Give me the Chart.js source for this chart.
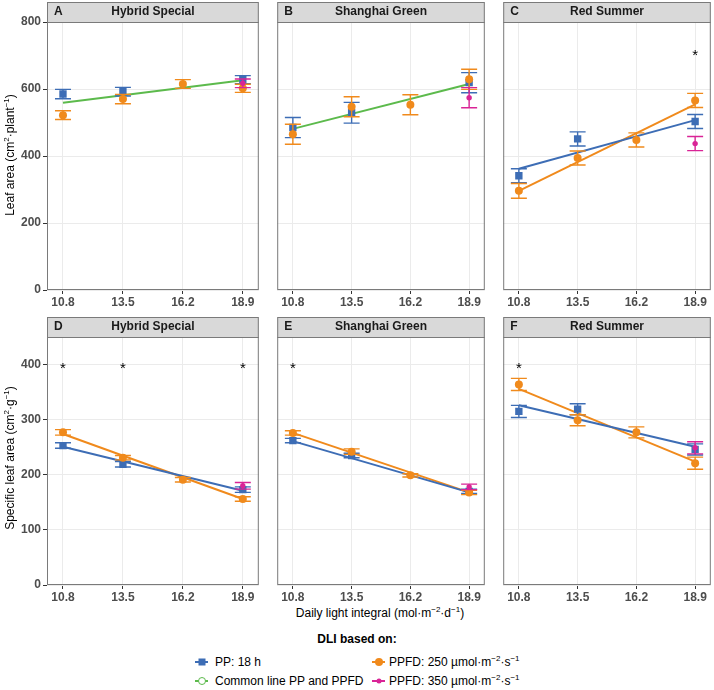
<!DOCTYPE html>
<html>
<head>
<meta charset="utf-8">
<script src="https://cdn.jsdelivr.net/npm/chart.js@4.4.1/dist/chart.umd.min.js"></script>
<style>
  body { margin: 0; background: #fff; font-family: "Liberation Sans", Arial, sans-serif; }
  #wrap { position: relative; width: 714px; height: 690px; overflow: hidden; }
  canvas { position: absolute; }
  .txt { position: absolute; font-size: 12px; line-height: 16px; color: #000; white-space: nowrap; }
  .rot { text-align: center; transform: rotate(-90deg); }
  sup { font-size: 8px; line-height: 0; vertical-align: 5px; }
  .ic { position: absolute; width: 13px; height: 14px; }
  .ic .ln { position: absolute; left: 0; top: 6px; width: 13px; height: 2px; }
  .ic .mk { position: absolute; left: 50%; top: 50%; transform: translate(-50%, -50%); box-sizing: border-box; }
</style>
</head>
<body>
<div id="wrap">
  <canvas id="pA" width="264" height="310" style="left:0;top:0"></canvas>
  <canvas id="pB" width="218" height="310" style="left:272px;top:0"></canvas>
  <canvas id="pC" width="218" height="310" style="left:498px;top:0"></canvas>
  <canvas id="pD" width="264" height="295" style="left:0;top:310px"></canvas>
  <canvas id="pE" width="218" height="295" style="left:272px;top:310px"></canvas>
  <canvas id="pF" width="218" height="295" style="left:498px;top:310px"></canvas>

  <div class="txt rot" style="left:-120px;top:147px;width:260px">Leaf area (cm<sup>2</sup>·plant<sup>−1</sup>)</div>
  <div class="txt rot" style="left:-120px;top:450px;width:260px">Specific leaf area (cm<sup>2</sup>·g<sup>−1</sup>)</div>
  <div class="txt" style="left:230px;top:605px;width:300px;text-align:center">Daily light integral (mol·m<sup>−2</sup>·d<sup>−1</sup>)</div>

  <div class="txt" style="left:257px;top:631px;width:200px;text-align:center;font-weight:bold">DLI based on:</div>
  <div class="ic" style="left:195px;top:655px"><i class="ln" style="background:#3d6db5"></i><i class="mk" style="width:7px;height:7px;background:#3d6db5"></i></div>
  <div class="txt" style="left:215px;top:654px">PP: 18 h</div>
  <div class="ic" style="left:195px;top:674px"><i class="ln" style="background:#5cba4c"></i><i class="mk" style="width:8px;height:8px;border-radius:50%;background:#fff;border:1.5px solid #5cba4c"></i></div>
  <div class="txt" style="left:215px;top:673px">Common line PP and PPFD</div>
  <div class="ic" style="left:372px;top:655px"><i class="ln" style="background:#f08a1c"></i><i class="mk" style="width:8px;height:8px;border-radius:50%;background:#f08a1c"></i></div>
  <div class="txt" style="left:389px;top:654px">PPFD: 250 µmol·m<sup>−2</sup>·s<sup>−1</sup></div>
  <div class="ic" style="left:372px;top:674px"><i class="ln" style="background:#d92496"></i><i class="mk" style="width:5px;height:5px;border-radius:50%;background:#d92496"></i></div>
  <div class="txt" style="left:389px;top:673px">PPFD: 350 µmol·m<sup>−2</sup>·s<sup>−1</sup></div>
</div>

<script>
// x values and facet labels
const dli = [10.8, 13.5, 16.2, 18.9];
const cultivars = ['Hybrid Special', 'Shanghai Green', 'Red Summer'];
const laLetters = ['A', 'B', 'C'];
const slaLetters = ['D', 'E', 'F'];
const laTicks = [0, 200, 400, 600, 800];
const slaTicks = [0, 100, 200, 300, 400];

// leaf area (cm2 per plant), one row per cultivar
const laPP = [[585, 592, null, 628], [485, 529, null, 619], [341, 451, null, 503]];
const laPPse = [[14, 13, null, 12], [30, 31, null, 30], [21, 21, null, 21]];
const la250 = [[522, 570, 615, 602], [465, 547, 553, 629], [296, 394, 448, 566]];
const la250se = [[13, 14, 13, 12], [30, 30, 30, 30], [22, 21, 21, 21]];
const la350 = [617, 574, 437];      // only at 18.9
const la350se = [13, 30, 21];
const laFitCommon = [[559, 626], [481, 615], null];
const laFitPP = [null, null, [362, 507]];
const laFit250 = [null, null, [296, 554]];
const laStars = [[], [], [18.9]];
const laStarY = 711;

// specific leaf area (cm2 per g)
const slaPP = [[253, 219, null, 173], [262, 235, null, 170], [315, 319, null, 246]];
const slaPPse = [[5, 5, null, 5], [4, 4, null, 4], [11, 10, null, 10]];
const sla250 = [[277, 231, 191, 156], [276, 242, 199, 168], [364, 299, 277, 221]];
const sla250se = [[5, 4, 4, 4], [4, 5, 3, 4], [11, 10, 10, 11]];
const sla350 = [180, 178, 249];
const sla350se = [6, 5, 11];
const slaFitPP = [[251, 171], [261, 168], [326, 251]];
const slaFit250 = [[274, 156], [276, 168], [356, 224]];
const slaStars = [[10.8, 13.5, 18.9], [10.8], [10.8]];
const slaStarY = 400;

const BLUE = '#3d6db5', ORANGE = '#f08a1c', GREEN = '#5cba4c', PINK = '#d92496';
const FONT = '"Liberation Sans", Arial, sans-serif';

function series(vals, errs) {
  const data = [], err = [];
  dli.forEach((x, i) => {
    if (vals[i] != null) { data.push({ x: x, y: vals[i] }); err.push(errs[i]); }
  });
  return { data, err };
}
function fitLine(ends) {
  return [{ x: dli[0], y: ends[0] }, { x: dli[3], y: ends[1] }];
}

// error bars, panel border, strip and asterisks
const facetPlugin = {
  id: 'facet',
  beforeDatasetDraw(chart, args) {
    const ds = chart.data.datasets[args.index];
    if (!ds.err) return;
    const ctx = chart.ctx, x = chart.scales.x, y = chart.scales.y;
    ctx.save();
    ctx.strokeStyle = ds.borderColor;
    ctx.lineWidth = 1.4;
    ds.data.forEach((p, i) => {
      const px = x.getPixelForValue(p.x);
      const y1 = y.getPixelForValue(p.y - ds.err[i]);
      const y2 = y.getPixelForValue(p.y + ds.err[i]);
      ctx.beginPath();
      ctx.moveTo(px, y1); ctx.lineTo(px, y2);
      ctx.moveTo(px - 8, y1); ctx.lineTo(px + 8, y1);
      ctx.moveTo(px - 8, y2); ctx.lineTo(px + 8, y2);
      ctx.stroke();
    });
    ctx.restore();
  },
  afterDraw(chart, args, o) {
    const ctx = chart.ctx, a = chart.chartArea, x = chart.scales.x, y = chart.scales.y;
    ctx.save();
    ctx.fillStyle = '#000';
    ctx.font = '15px ' + FONT;
    ctx.textAlign = 'center';
    ctx.textBaseline = 'alphabetic';
    o.stars.forEach(v => ctx.fillText('*', x.getPixelForValue(v), y.getPixelForValue(o.starY) + 8));

    ctx.strokeStyle = '#7a7a7a';
    ctx.lineWidth = 1;
    ctx.strokeRect(a.left + 0.5, a.top + 0.5, a.width - 1, a.height - 1);
    ctx.fillStyle = '#d9d9d9';
    ctx.fillRect(a.left, a.top - 20, a.width, 20);
    ctx.strokeRect(a.left + 0.5, a.top - 19.5, a.width - 1, 20);

    ctx.fillStyle = '#1a1a1a';
    ctx.font = 'bold 12px ' + FONT;
    ctx.textBaseline = 'middle';
    ctx.textAlign = 'left';
    ctx.fillText(o.letter, a.left + 7, a.top - 10);
    ctx.textAlign = 'center';
    ctx.fillText(o.title, (a.left + a.right) / 2, a.top - 10);
    ctx.restore();
  }
};

function makePanel(id, k, opt) {
  const left = k === 0;
  const datasets = [];
  const line = (ends, color) => {
    if (ends) datasets.push({ data: fitLine(ends), showLine: true, borderColor: color, borderWidth: 2, pointRadius: 0, order: 10 });
  };
  line(opt.fitCommon ? opt.fitCommon[k] : null, GREEN);
  line(opt.fitPP[k], BLUE);
  line(opt.fit250[k], ORANGE);

  const pp = series(opt.pp[k], opt.ppSe[k]);
  datasets.push({ data: pp.data, err: pp.err, borderColor: BLUE, backgroundColor: BLUE,
    pointStyle: 'rect', pointRadius: 5.2, borderWidth: 0, order: 3 });
  const o250 = series(opt.o250[k], opt.o250Se[k]);
  datasets.push({ data: o250.data, err: o250.err, borderColor: ORANGE, backgroundColor: ORANGE,
    pointStyle: 'circle', pointRadius: 4, borderWidth: 0, order: 2 });
  datasets.push({ data: [{ x: dli[3], y: opt.p350[k] }], err: [opt.p350Se[k]], borderColor: PINK, backgroundColor: PINK,
    pointStyle: 'circle', pointRadius: 2.7, borderWidth: 0, order: 1 });

  const tickFont = { family: FONT, size: 12, weight: 'bold' };
  new Chart(document.getElementById(id), {
    type: 'scatter',
    data: { datasets },
    plugins: [facetPlugin],
    options: {
      responsive: false,
      animation: false,
      devicePixelRatio: 1,
      layout: { padding: { top: opt.padTop, right: 4, bottom: 0, left: 0 } },
      plugins: {
        legend: { display: false },
        tooltip: { enabled: false },
        facet: { letter: opt.letters[k], title: cultivars[k], stars: opt.stars[k], starY: opt.starY }
      },
      scales: {
        x: {
          type: 'linear', min: 10.08, max: 19.62,
          afterBuildTicks: s => { s.ticks = dli.map(v => ({ value: v })); },
          afterFit: s => { s.height = 20; },
          grid: { color: '#ebebeb', tickColor: '#333', tickLength: 4 },
          border: { display: false },
          ticks: { padding: 1, color: '#4d4d4d', font: tickFont, maxRotation: 0, autoSkip: false,
                   callback: v => v.toFixed(1) }
        },
        y: {
          min: 0, max: opt.yMax,
          afterBuildTicks: s => { s.ticks = opt.yTicks.map(v => ({ value: v })); },
          afterFit: s => { s.width = left ? 47 : 0; },
          grid: { color: '#ebebeb', tickColor: '#333', tickLength: 4, drawTicks: left },
          border: { display: false },
          ticks: { display: left, padding: 2, color: '#4d4d4d', font: tickFont }
        }
      }
    }
  });
}

const laOpt = { pp: laPP, ppSe: laPPse, o250: la250, o250Se: la250se, p350: la350, p350Se: la350se,
  fitCommon: laFitCommon, fitPP: laFitPP, fit250: laFit250, stars: laStars, starY: laStarY,
  letters: laLetters, yMax: 800, yTicks: laTicks, padTop: 22 };
const slaOpt = { pp: slaPP, ppSe: slaPPse, o250: sla250, o250Se: sla250se, p350: sla350, p350Se: sla350se,
  fitCommon: null, fitPP: slaFitPP, fit250: slaFit250, stars: slaStars, starY: slaStarY,
  letters: slaLetters, yMax: 450, yTicks: slaTicks, padTop: 27 };

['pA', 'pB', 'pC'].forEach((id, k) => makePanel(id, k, laOpt));
['pD', 'pE', 'pF'].forEach((id, k) => makePanel(id, k, slaOpt));
</script>
</body>
</html>
